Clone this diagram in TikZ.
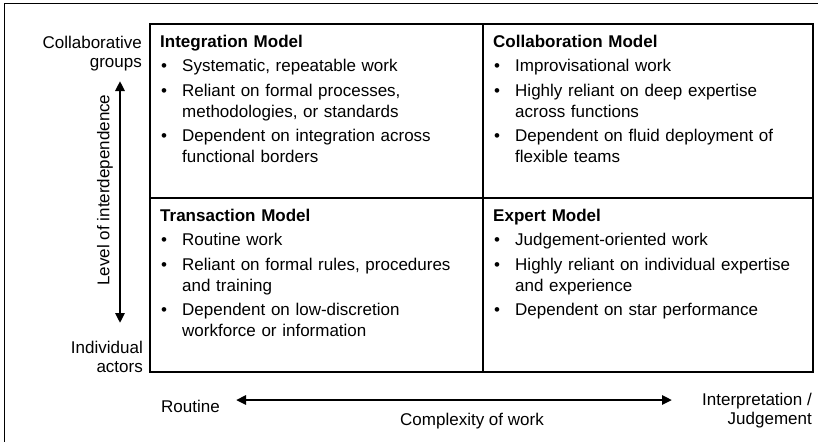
\documentclass[tikz,border=0pt]{standalone}
\usepackage{fontspec}
\setmainfont{Liberation Sans}
\usetikzlibrary{arrows.meta, positioning}

\newcommand{\modeltitle}[1]{{\bfseries #1}\par}
\newcommand{\bitem}[1]{\par\vspace{3.5pt}\noindent\makebox[22pt][l]{\hspace{1pt}\textbullet}%
  \parbox[t]{290pt}{#1\strut}\par\prevdepth=\dp\strutbox}

\tikzset{
  cell/.style={anchor=north west, text width=313pt, inner xsep=10pt, inner ysep=10.6pt,
    align=left, font=\fontsize{17}{21}\selectfont},
  lbl/.style={inner sep=0pt, font=\fontsize{17}{19.5}\selectfont},
  axisarrow/.style={line width=2.5pt, {Triangle[length=10pt,width=9pt]}-{Triangle[length=10pt,width=9pt]}},
  gridline/.style={line width=1.5pt},
}

\begin{document}
\begin{tikzpicture}[x=1pt, y=-1pt]
    \useasboundingbox (0,0) rectangle (818,442);

    % Rahmen
    \draw[line width=1pt] (818,3) -- (4,3) -- (4,442);

    % Raster der vier Modelle
    \coordinate (gridNW) at (150,24);
    \coordinate (gridSE) at (813,372);
    \coordinate (midN) at (483,24);
    \coordinate (midS) at (483,372);
    \coordinate (midW) at (150,198);
    \coordinate (midE) at (813,198);
    \coordinate (center) at (483,198);
    \draw[gridline] (gridNW) rectangle (gridSE);
    \draw[gridline] (midN) -- (midS);
    \draw[gridline] (midW) -- (midE);

    % Zellen
    \node[cell] (integ) at (gridNW) {\modeltitle{Integration Model}
      \bitem{Systematic, repeatable work}
      \bitem{Reliant on formal processes,\\methodologies, or standards}
      \bitem{Dependent on integration across\\functional borders}};
    \node[cell] (collab) at (midN) {\modeltitle{Collaboration Model}
      \bitem{Improvisational work}
      \bitem{Highly reliant on deep expertise\\across functions}
      \bitem{Dependent on fluid deployment of\\flexible teams}};
    \node[cell] (trans) at (midW) {\modeltitle{Transaction Model}
      \bitem{Routine work}
      \bitem{Reliant on formal rules, procedures\\and training}
      \bitem{Dependent on low-discretion\\workforce or information}};
    \node[cell] (expert) at (center) {\modeltitle{Expert Model}
      \bitem{Judgement-oriented work}
      \bitem{Highly reliant on individual expertise\\and experience}
      \bitem{Dependent on star performance}};

    % vertikale Achse
    \node[lbl, anchor=north east, align=right] (collgroups) at (142,35.6) {Collaborative\\groups};
    \node[lbl, anchor=north east, align=right] (indactors) at (143,340.6) {Individual\\actors};
    \node[lbl, rotate=90] (interdep) at (105,190) {Level of interdependence};
    \coordinate (vtop) at (120,81);
    \coordinate (vbot) at (120,323);
    \draw[axisarrow] (vtop) -- (vbot);

    % horizontale Achse
    \node[lbl, anchor=base west] (routine) at (161,412) {Routine};
    \node[lbl, anchor=base west] (complexity) at (400,425) {Complexity of work};
    \node[lbl, anchor=north east, align=right] (interp) at (812,392.6) {Interpretation /\\Judgement};
    \coordinate (hleft) at (236,400);
    \coordinate (hright) at (672,400);
    \draw[axisarrow] (hleft) -- (hright);
\end{tikzpicture}
\end{document}
